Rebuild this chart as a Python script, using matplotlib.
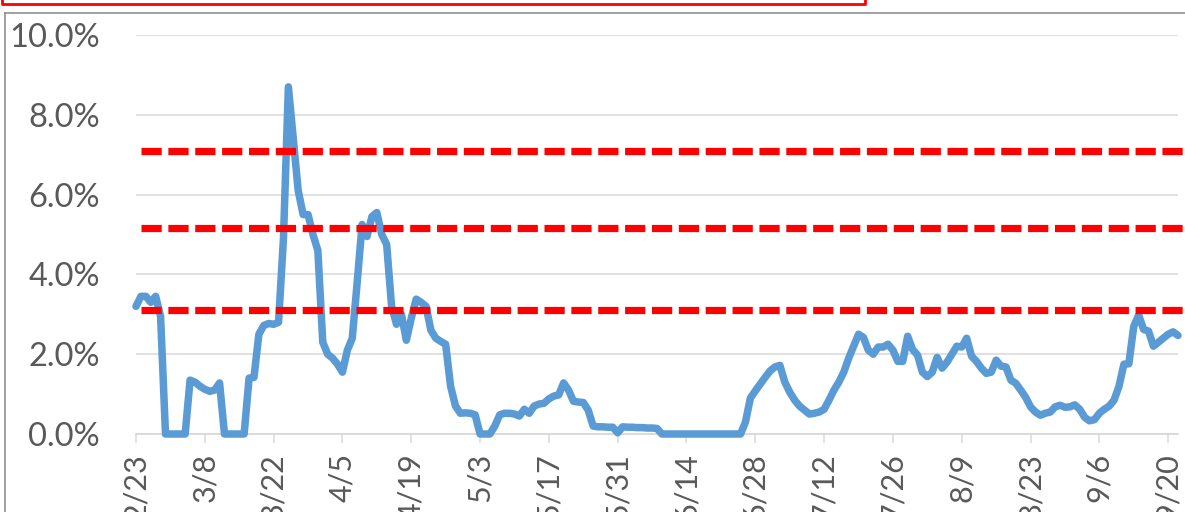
import matplotlib.pyplot as plt
import matplotlib as mpl
from matplotlib.lines import Line2D
import numpy as np

mpl.rcParams['font.family'] = ['Lato', 'DejaVu Sans']

# daily values (%) starting 2/23
rate = [
    3.2, 3.45, 3.45, 3.3, 3.45, 2.95, 0, 0, 0, 0,
    0, 1.35, 1.3, 1.2, 1.12, 1.07, 1.1, 1.28, 0, 0,
    0, 0, 0, 1.4, 1.42, 2.5, 2.72, 2.77, 2.75, 2.8,
    4.9, 8.7, 7.4, 6.1, 5.5, 5.5, 5.0, 4.6, 2.3, 2.0,
    1.9, 1.75, 1.55, 2.1, 2.4, 3.8, 5.25, 4.95, 5.45, 5.55,
    5.0, 4.75, 3.2, 2.75, 3.0, 2.35, 2.9, 3.38, 3.3, 3.2,
    2.6, 2.4, 2.32, 2.25, 1.2, 0.7, 0.52, 0.53, 0.52, 0.48,
    0, 0, 0, 0.2, 0.48, 0.52, 0.52, 0.5, 0.45, 0.62,
    0.52, 0.7, 0.75, 0.77, 0.88, 0.95, 0.98, 1.28, 1.1, 0.82,
    0.8, 0.79, 0.6, 0.2, 0.18, 0.18, 0.17, 0.17, 0.03, 0.18,
    0.17, 0.17, 0.16, 0.16, 0.15, 0.15, 0.14, 0, 0, 0,
    0, 0, 0, 0, 0, 0, 0, 0, 0, 0,
    0, 0, 0, 0, 0.3, 0.9, 1.08, 1.25, 1.42, 1.58,
    1.68, 1.72, 1.3, 1.05, 0.85, 0.7, 0.6, 0.5, 0.52, 0.55,
    0.62, 0.85, 1.1, 1.3, 1.55, 1.9, 2.2, 2.5, 2.42, 2.1,
    2.0, 2.18, 2.18, 2.25, 2.1, 1.82, 1.82, 2.45, 2.12, 1.98,
    1.55, 1.44, 1.55, 1.92, 1.65, 1.8, 2.0, 2.2, 2.18, 2.4,
    1.95, 1.82, 1.65, 1.52, 1.55, 1.85, 1.7, 1.68, 1.35, 1.27,
    1.1, 0.92, 0.68, 0.55, 0.47, 0.52, 0.55, 0.68, 0.72, 0.67,
    0.68, 0.73, 0.62, 0.42, 0.33, 0.36, 0.52, 0.62, 0.7, 0.85,
    1.2, 1.75, 1.76, 2.7, 2.98, 2.62, 2.58, 2.2, 2.3, 2.4,
    2.5, 2.56, 2.47,
]

# mean and +1 / +2 sigma levels (%)
levels = [3.12, 5.16, 7.1]

tick_labels = ['2/23', '3/8', '3/22', '4/5', '4/19', '5/3', '5/17', '5/31',
               '6/14', '6/28', '7/12', '7/26', '8/9', '8/23', '9/6', '9/20']
tick_step = 14

text_color = '#595959'
grid_color = '#d9d9d9'

fig = plt.figure(figsize=(11.85, 5.12), dpi=100)
W, H = 1185, 512
ax = fig.add_axes([136 / W, 1 - 434 / H, (1178 - 136) / W, 399 / H])

days = np.arange(len(rate))
ax.plot(days, rate, color='#5b9bd5', lw=5.4, solid_joinstyle='round',
        solid_capstyle='round', zorder=3, clip_on=False)

for lv in levels:
    ax.axhline(lv, xmin=0.005, xmax=1.02, color='#ff0000', lw=5.2,
               dashes=(2.8, 0.92), dash_capstyle='butt', zorder=4, clip_on=False)

ax.set_xlim(0, len(rate) - 1)
ax.set_ylim(0, 10)
ax.set_yticks(np.arange(0, 10.1, 2))
ax.set_yticklabels([f'{v:.1f}%' for v in np.arange(0, 10.1, 2)])
ax.set_xticks(np.arange(0, len(rate), tick_step)[:len(tick_labels)])
ax.set_xticklabels(tick_labels, rotation=90, va='top', ha='center')

ax.grid(axis='y', color=grid_color, lw=1.1, zorder=0)
ax.set_axisbelow(True)
for s in ['top', 'right', 'left']:
    ax.spines[s].set_visible(False)
ax.spines['bottom'].set_color(grid_color)
ax.spines['bottom'].set_linewidth(1.3)

ax.tick_params(axis='y', length=0, pad=26, labelsize=23.5, labelcolor=text_color)
ax.tick_params(axis='x', length=6.5, width=1.1, color=grid_color, pad=7,
               labelsize=22, labelcolor=text_color)

# chart frame (cropped) and red title box edge
fig.add_artist(Line2D([4.5 / W, 4.5 / W], [0, 1 - 13 / H], color='#868686', lw=1.1))
fig.add_artist(Line2D([4.5 / W, 1], [1 - 13 / H, 1 - 13 / H], color='#868686', lw=1.1))
fig.add_artist(Line2D([1.5 / W, 1.5 / W, 865 / W, 865 / W],
                      [1, 1 - 3.5 / H, 1 - 3.5 / H, 1], color='#ff0000', lw=2))

fig.savefig('out.png', dpi=100)
